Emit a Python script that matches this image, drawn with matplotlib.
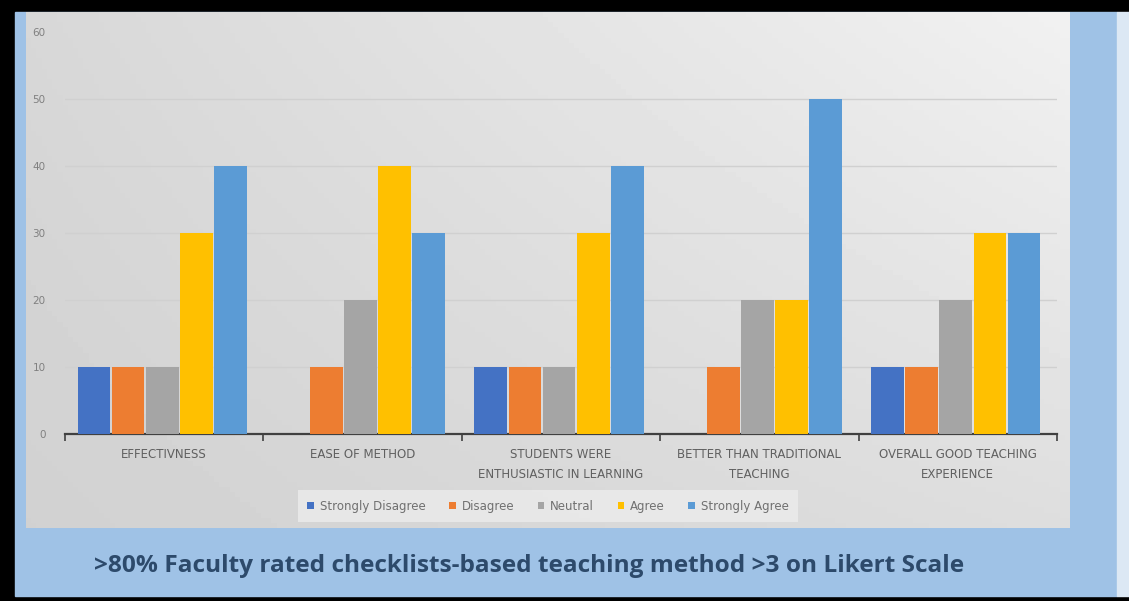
import matplotlib.pyplot as plt
import numpy as np
from matplotlib.patches import Rectangle

categories = ['EFFECTIVNESS', 'EASE OF METHOD', 'STUDENTS WERE\nENTHUSIASTIC IN LEARNING',
              'BETTER THAN TRADITIONAL\nTEACHING', 'OVERALL GOOD TEACHING\nEXPERIENCE']
series = ['Strongly Disagree', 'Disagree', 'Neutral', 'Agree', 'Strongly Agree']
strongly_disagree = [10, 0, 10, 0, 10]
disagree = [10, 10, 10, 10, 10]
neutral = [10, 20, 10, 20, 20]
agree = [30, 40, 30, 20, 30]
strongly_agree = [40, 30, 40, 50, 30]
colors = ['#4472C4', '#ED7D31', '#A5A5A5', '#FFC000', '#5B9BD5']
caption = '>80% Faculty rated checklists-based teaching method >3 on Likert Scale'

W, H = 1129, 601
fig = plt.figure(figsize=(W / 100, H / 100), dpi=100, facecolor='black')

def box(x0, y0, x1, y1):
    # pixel box (from top-left) -> figure fraction rect
    return [x0 / W, 1 - y1 / H, (x1 - x0) / W, (y1 - y0) / H]

# blue slide background and frosty right edge
r = box(15, 12, 1117, 596)
fig.patches.append(Rectangle(r[:2], *r[2:], transform=fig.transFigure, color='#9fc2e6', zorder=0))
r = box(1117, 12, 1129, 596)
fig.patches.append(Rectangle(r[:2], *r[2:], transform=fig.transFigure, color='#dce8f4', zorder=0))

# gray gradient chart panel
bg = fig.add_axes(box(26, 12, 1070, 528), zorder=1)
gx, gy = np.meshgrid(np.linspace(0, 1, 200), np.linspace(0, 1, 100))
shade = 0.845 + 0.10 * gx * (1 - 0.5 * gy) - 0.025 * gy
bg.imshow(shade, cmap='gray', vmin=0, vmax=1, aspect='auto', extent=[0, 1, 0, 1], origin='upper')
bg.axis('off')

ax = fig.add_axes(box(65, 32, 1057, 434), zorder=2)
ax.patch.set_alpha(0)
x = np.arange(len(categories))
w = 0.172
data = [strongly_disagree, disagree, neutral, agree, strongly_agree]
for i, (name, vals) in enumerate(zip(series, data)):
    ax.bar(x + (i - 2) * w - 0.01, vals, w * 0.96, color=colors[i], label=name, zorder=3)

ax.set_xlim(-0.5, 4.5)
ax.set_ylim(0, 60)
ax.set_yticks(range(0, 61, 10))
for v in range(10, 51, 10):
    ax.axhline(v, color='#d0d0d0', lw=1, zorder=1)
ax.tick_params(axis='y', length=0, pad=14, labelsize=7.5, labelcolor='#808080')
ax.set_xticks(np.arange(-0.5, 5, 1))
ax.set_xticklabels([])
ax.set_xticks(x, minor=True)
ax.set_xticklabels(categories, minor=True, fontsize=8.5, color='#606060', linespacing=1.75)
ax.tick_params(axis='x', which='major', direction='out', length=5, color='#404040', width=1.2)
ax.tick_params(axis='x', which='minor', length=0, pad=10)
for s in ['top', 'right', 'left']:
    ax.spines[s].set_visible(False)
ax.spines['bottom'].set_color('#404040')
ax.spines['bottom'].set_linewidth(1.6)

leg = ax.legend(loc='center', bbox_to_anchor=(0.487, -0.18), ncol=5, fontsize=8.5,
                frameon=True, facecolor='#ececec', edgecolor='none', fancybox=False,
                handlelength=0.55, handleheight=0.55, handletextpad=0.5, columnspacing=2.0,
                borderpad=0.8)
for t in leg.get_texts():
    t.set_color('#707070')

fig.text(529 / W, 1 - 566 / H, caption, ha='center', va='center', fontsize=17.6,
         fontweight='bold', color='#2d4a6b', family=['Open Sans', 'DejaVu Sans'], zorder=3)

fig.savefig('out.png', dpi=100, facecolor='black')
